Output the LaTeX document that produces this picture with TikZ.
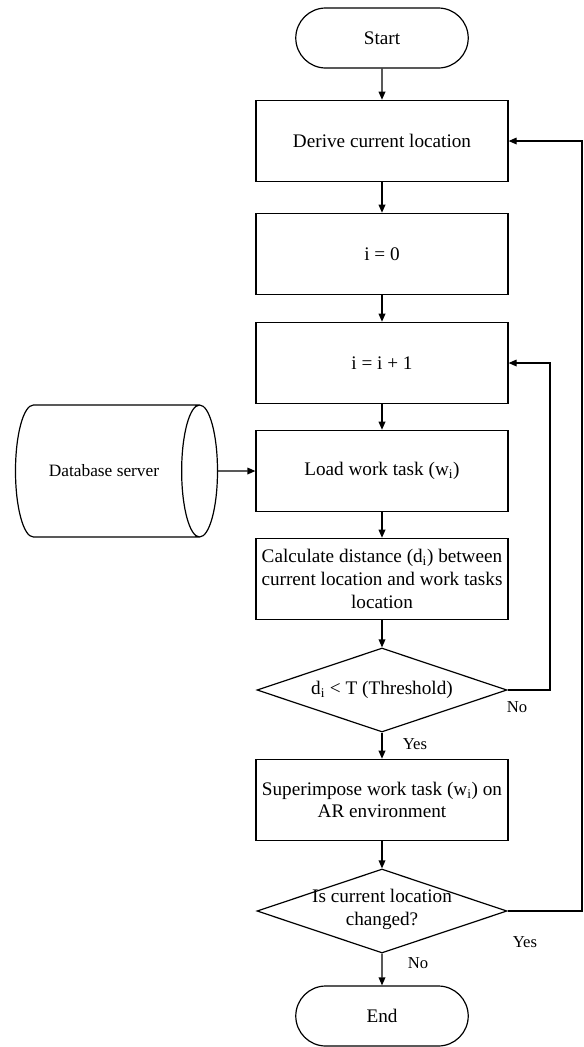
\documentclass[tikz,border=0pt]{standalone}
\usepackage{fontspec}
\setmainfont{Liberation Serif}
\usetikzlibrary{arrows.meta,positioning,calc,shapes.geometric,shapes.misc}
\newcommand{\boxfont}{\fontsize{14.4}{17}\selectfont}
\newcommand{\lblfont}{\fontsize{12.5}{14}\selectfont}

\begin{document}
\begin{tikzpicture}[x=0.75pt,y=-0.75pt,>={Triangle[length=6pt,width=5pt]},line width=0.9pt,
  box/.style={rectangle,draw,minimum width=189pt,minimum height=61pt,inner sep=2pt,align=center,font=\boxfont},
  term/.style={rounded rectangle,draw,minimum width=136pt,minimum height=45pt,font=\boxfont},
  dec/.style={diamond,draw,aspect=3,minimum width=187.5pt,minimum height=63pt,inner sep=0pt,align=center,font=\boxfont},
  lbl/.style={font=\lblfont}]
\useasboundingbox (0,0) rectangle (584,1047);
\node[term] (start) at (382,38) {Start};
\node[box] (derive) at (382,141) {Derive current location};
\node[box] (init) at (382,254) {i = 0};
\node[box] (inc) at (382,363) {i = i + 1};
\node[box] (load) at (382,471) {Load work task (w\textsubscript{i})};
\node[box] (calc) at (382,579) {Calculate distance (d\textsubscript{i}) between\\current location and work tasks\\location};
\node[dec] (near) at (382,690) {d\textsubscript{i} < T (Threshold)};
\node[box] (show) at (382,800) {Superimpose work task (w\textsubscript{i}) on\\AR environment};
\node[dec,label={[align=center,font=\boxfont,yshift=1pt]center:Is current location\\changed?}] (moved) at (382,911) {};
\node[term] (end) at (382,1016) {End};
\node[cylinder,draw,aspect=1.7,minimum width=99pt,minimum height=151.5pt,font=\fontsize{13}{15}\selectfont] (db) at (104,471) {Database server};
\draw[->] (start)--(derive);
\draw[->] (derive)--(init);
\draw[->] (init)--(inc);
\draw[->] (inc)--(load);
\draw[->] (load)--(calc);
\draw[->] (calc)--(near);
\draw[->] (near)--(show);
\draw[->] (show)--(moved);
\draw[->] (moved)--(end);
\draw[->] (db.east)--(load.west);
\draw[->] (near.east)--(550,690)|-(inc.east);
\draw[->] (moved.east)--(582,911)|-(derive.east);
\node[lbl] (no1) at (517,707) {No};
\node[lbl] (yes1) at (415,744) {Yes};
\node[lbl] (yes2) at (525,942) {Yes};
\node[lbl] (no2) at (418,963) {No};
\end{tikzpicture}
\end{document}
